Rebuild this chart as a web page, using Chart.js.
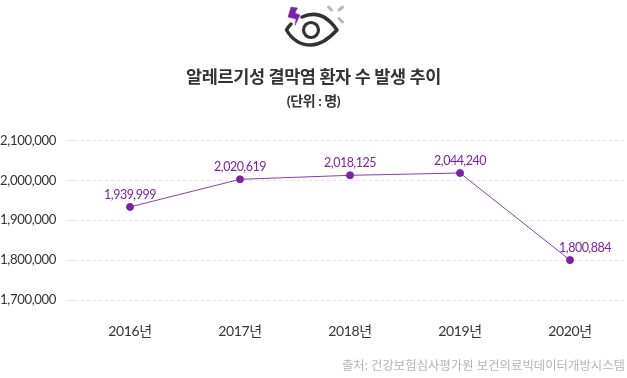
<!DOCTYPE html>
<html>
<head>
<meta charset="utf-8">
<style>
  html, body { margin: 0; padding: 0; background: #fff; }
  #wrap { position: relative; width: 627px; height: 378px; overflow: hidden; }
  #icon { position: absolute; left: 0; top: 0; }
  #source { position: absolute; right: 2px; top: 356px; font: 12.4px Lato, "Noto Sans CJK KR", sans-serif; color: #b5b5b5; white-space: nowrap; }
</style>
</head>
<body>
<div id="wrap">
  <!-- a bit wider than the page: Chart.js keeps room for the last point's radius -->
  <canvas id="plot" width="630" height="378"></canvas>
  <svg id="icon" width="627" height="50" viewBox="0 0 627 50">
    <path d="M302 17 Q322 8 337 30 Q323 45 311 45 Q295 45 286.5 30 Q288 27 291 24" fill="none" stroke="#333" stroke-width="3.5" stroke-linecap="round" stroke-linejoin="round"/>
    <circle cx="311" cy="30" r="7.5" fill="none" stroke="#333" stroke-width="3.2"/>
    <path d="M291 7 L297.5 8 L295 13 L300 15 L295 25.5 L296 19 L288 17 Z" fill="#7b22a8" stroke="#7b22a8" stroke-width="0.5"/>
    <path d="M328.5 7 L331.5 10 M342.5 7 L339 10 M339 18.5 L342.5 22" stroke="#b4b8c8" stroke-width="3" stroke-linecap="round"/>
  </svg>
  <div id="source">출처: 건강보험심사평가원 보건의료빅데이터개방시스템</div>
</div>
<script src="https://cdn.jsdelivr.net/npm/chart.js"></script>
<script>
const years = ["2016년", "2017년", "2018년", "2019년", "2020년"];
// height of each point
const plotted = [1933250, 2002500, 2012500, 2018250, 1800000];
// the numbers printed over the points
const printed = ["1,939,999", "2,020,619", "2,018,125", "2,044,240", "1,800,884"];
const yTicks = [1700000, 1800000, 1900000, 2000000, 2100000];

const FONT = 'Lato, "Noto Sans CJK KR", sans-serif';
const PURPLE = "#7b22a8";

// tight letter spacing for the axis text, and the printed numbers above the points
const pointLabels = {
  id: "pointLabels",
  beforeDraw(chart) {
    chart.ctx.letterSpacing = "-0.4px";
  },
  afterDatasetsDraw(chart) {
    const ctx = chart.ctx;
    ctx.save();
    ctx.font = "12.5px " + FONT;
    ctx.fillStyle = PURPLE;
    ctx.textAlign = "center";
    ctx.textBaseline = "bottom";
    ctx.letterSpacing = "-0.5px";
    chart.getDatasetMeta(0).data.forEach(function (pt, i) {
      // the last label sits to the right so the falling line doesn't cross it
      const dx = i === printed.length - 1 ? 15 : 0;
      ctx.fillText(printed[i], pt.x + dx, pt.y - 6);
    });
    ctx.restore();
  }
};

new Chart("plot", {
  type: "line",
  data: {
    labels: years,
    datasets: [{
      data: plotted,
      borderColor: "#8a3bb3",
      backgroundColor: PURPLE,
      borderWidth: 1,
      pointRadius: 3.5,
      pointBorderColor: PURPLE,
      tension: 0
    }]
  },
  plugins: [pointLabels],
  options: {
    responsive: false,
    animation: false,
    layout: { padding: { left: 0, right: 3, top: 67, bottom: 0 } },
    plugins: {
      legend: { display: false },
      tooltip: { enabled: false },
      title: {
        display: true,
        text: "알레르기성 결막염 환자 수 발생 추이",
        color: "#333",
        font: { family: FONT, size: 17.5, weight: "bold" },
        padding: { top: 0, bottom: 4.6 }
      },
      subtitle: {
        display: true,
        text: "(단위 : 명)",
        color: "#333",
        font: { family: FONT, size: 14, weight: "bold" },
        padding: { top: 0, bottom: 31 }
      }
    },
    scales: {
      x: {
        offset: true,
        afterFit(axis) { axis.height = 78; },
        grid: { display: false, offset: false },
        border: { display: false },
        ticks: { color: "#333", font: { family: FONT, size: 14 }, padding: 15, maxRotation: 0 }
      },
      y: {
        min: 1700000,
        max: 2100000,
        afterFit(axis) { axis.width = 75; },
        afterBuildTicks(axis) { axis.ticks = yTicks.map(v => ({ value: v })); },
        grid: { color: "#e2e2e2", tickLength: 9, tickColor: "#e2e2e2" },
        border: { display: false, dash: [3, 3] },
        ticks: {
          color: "#333",
          font: { family: FONT, size: 13.2 },
          padding: 10,
          callback: v => v.toLocaleString("en-US")
        }
      }
    }
  }
});
</script>
</body>
</html>
